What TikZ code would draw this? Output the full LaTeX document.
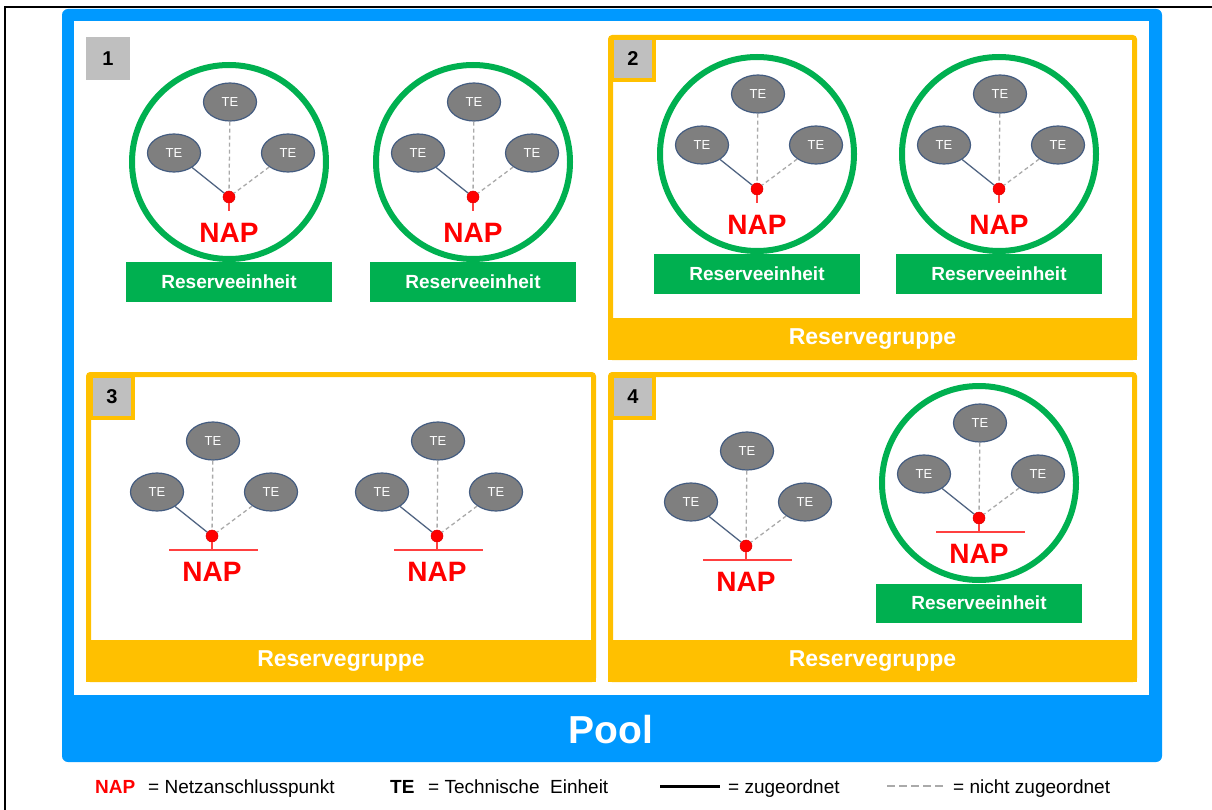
\documentclass[tikz,border=0pt]{standalone}
\usepackage{fontspec}
\setmainfont{Liberation Sans}
\usepackage{tikz}
\usetikzlibrary{shapes.geometric, calc}
\definecolor{poolblue}{RGB}{0,153,255}
\definecolor{groupyellow}{RGB}{255,192,0}
\definecolor{unitgreen}{RGB}{0,176,80}
\definecolor{tegray}{RGB}{127,127,127}
\definecolor{teborder}{RGB}{68,92,128}
\definecolor{labelgray}{RGB}{191,191,191}
\definecolor{linkblue}{RGB}{80,100,130}
\definecolor{dashgray}{RGB}{170,170,170}
\definecolor{napred}{RGB}{255,0,0}

\begin{document}
\begin{tikzpicture}[
    x=1pt, y=-1pt,
    te/.style={ellipse, draw=teborder, fill=tegray, line width=1.2pt, minimum width=53pt, minimum height=38pt, inner sep=0pt, text=white, font=\fontsize{13}{13}\selectfont},
    napdot/.style={circle, fill=napred, draw=napred!85!black, line width=0.5pt, minimum size=12pt, inner sep=0pt},
    naptext/.style={text=napred, font=\bfseries\fontsize{28}{28}\selectfont},
    napline/.style={draw=napred!75, line width=1.4pt},
    unitring/.style={circle, draw=unitgreen, line width=6pt, minimum size=194pt, inner sep=0pt},
    unitbox/.style={rectangle, fill=unitgreen, minimum width=206pt, minimum height=39pt, text=white, font=\bfseries\fontsize{19}{19}\selectfont},
    groupframe/.style={draw=groupyellow, line width=5pt, rounded corners=2pt},
    groupband/.style={rectangle, fill=groupyellow, minimum height=42pt, text=white, font=\bfseries\fontsize{23}{23}\selectfont},
    num/.style={rectangle, fill=labelgray, minimum width=44pt, minimum height=43pt, font=\bfseries\fontsize{20}{20}\selectfont},
    link/.style={draw=linkblue, line width=1.3pt},
    nolink/.style={draw=dashgray, line width=1.3pt, dash pattern=on 4pt off 3pt},
    legend/.style={anchor=base west, inner sep=0pt, font=\fontsize{19}{19}\selectfont}
]
    \useasboundingbox (0,0) rectangle (1212,810);
    \fill[white] (0,0) rectangle (1212,810);

    % Outer frame
    \draw[black, line width=2pt] (5,810) -- (5,7) -- (1212,7);

    % Pool
    \fill[poolblue, rounded corners=6pt] (62,9) rectangle (1162,762);
    \fill[white] (74,21) rectangle (1149,695);
    \node[text=white, font=\bfseries\fontsize{39}{39}\selectfont] (pool) at (611,730) {Pool};

    % Reservegruppen
    \draw[groupframe] (610.5,37.5) rectangle (1134.5,357.5);
    \draw[groupframe] (88.5,374.5) rectangle (593.5,679.5);
    \draw[groupframe] (610.5,374.5) rectangle (1134.5,679.5);
    \node[groupband, minimum width=529pt] (group2) at (872.5,339) {Reservegruppe};
    \node[groupband, minimum width=510pt] (group3) at (341,661) {Reservegruppe};
    \node[groupband, minimum width=529pt] (group4) at (872.5,661) {Reservegruppe};

    % Numbers
    \node[num] (num1) at (108,58.5) {1};
    \node[num, draw=groupyellow, line width=4pt, minimum width=42pt, minimum height=42pt] (num2) at (633,59) {2};
    \node[num, draw=groupyellow, line width=4pt, minimum width=42pt, minimum height=42pt] (num3) at (112,397) {3};
    \node[num, draw=groupyellow, line width=4pt, minimum width=42pt, minimum height=42pt] (num4) at (633,397) {4};

    % Technische Einheiten am NAP
    \foreach \n/\x/\y in {a/229/197, b/473/197, c/757/189, d/999/189, e/212/536, f/437/536, g/746/546, h/979/518} {
        \node[te] (tt\n) at (\x+1,\y-95) {TE};
        \node[te] (tl\n) at (\x-55,\y-44) {TE};
        \node[te] (tr\n) at (\x+59,\y-44) {TE};
        \node[napdot] (nap\n) at (\x,\y) {};
        \node[naptext] (napl\n) at (\x,\y+36) {NAP};
        \draw[link] (tl\n) -- (nap\n);
        \draw[nolink] (tt\n) -- (nap\n);
        \draw[nolink] (tr\n) -- (nap\n);
        \draw[napline] (nap\n) -- ++(0,14);
    }

    % Netzanschluss
    \foreach \n in {e,f,g,h}
        \draw[napline] ($(nap\n)+(-43,14)$) -- ($(nap\n)+(46,14)$);

    % Reserveeinheiten
    \foreach \n in {a,b,c,d,h} {
        \node[unitring] (ring\n) at ($(nap\n)+(0,-35)$) {};
        \node[unitbox] (unit\n) at ($(nap\n)+(0,85)$) {Reserveeinheit};
    }

    % Legend
    \node[legend, text=napred, font=\bfseries\fontsize{19}{19}\selectfont] (lnap) at (95,793) {NAP};
    \node[legend] (lnaptext) at (148,793) {= Netzanschlusspunkt};
    \node[legend, font=\bfseries\fontsize{19}{19}\selectfont] (lte) at (390,793) {TE};
    \node[legend] (ltetext) at (428,793) {= Technische\ \ Einheit};
    \coordinate (solida) at (660,786);
    \coordinate (solidb) at (720,786);
    \draw[black, line width=3pt] (solida) -- (solidb);
    \node[legend] (lsolid) at (728,793) {= zugeordnet};
    \coordinate (dasha) at (887,786);
    \coordinate (dashb) at (945,786);
    \draw[nolink, line width=2.5pt, dash pattern=on 8pt off 4pt] (dasha) -- (dashb);
    \node[legend] (ldash) at (953,793) {= nicht zugeordnet};
\end{tikzpicture}
\end{document}
